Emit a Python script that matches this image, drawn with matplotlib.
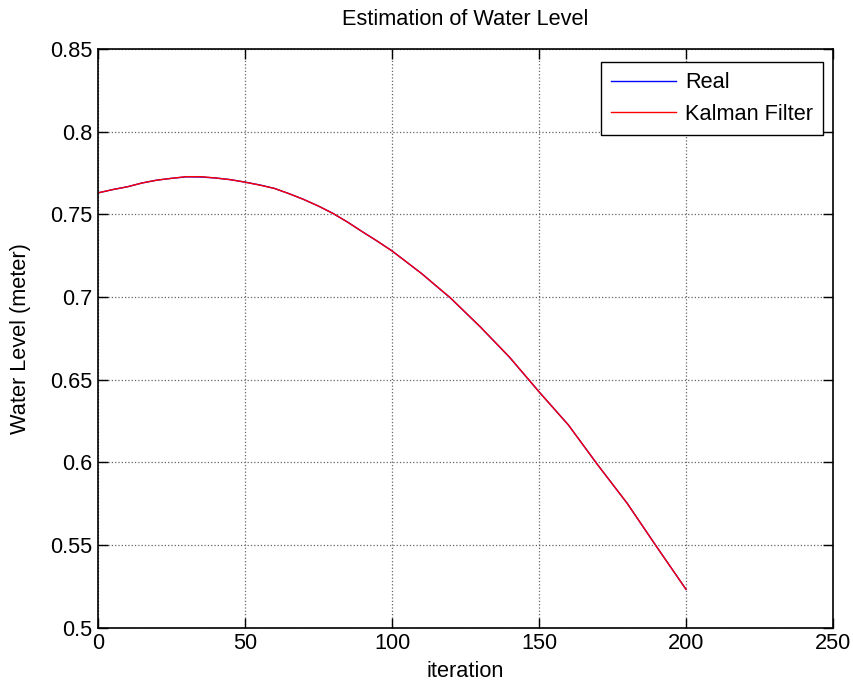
import matplotlib.pyplot as plt
import matplotlib.ticker as mticker

plt.rcParams['font.family'] = ['Liberation Sans', 'DejaVu Sans']

# Data
iteration = [0, 5, 10, 15, 20, 25, 30, 35, 40, 45, 50, 55, 60, 65, 70, 75, 80,
             85, 90, 95, 100, 110, 120, 130, 140, 150, 160, 170, 180, 190, 200]
real = [0.7630, 0.7650, 0.7667, 0.7690, 0.7707, 0.7718, 0.7727, 0.7726, 0.7720,
        0.7710, 0.7695, 0.7678, 0.7657, 0.7625, 0.7590, 0.7550, 0.7505,
        0.7452, 0.7394, 0.7338, 0.7279, 0.7143, 0.6992, 0.6820, 0.6635,
        0.6427, 0.6226, 0.5984, 0.5752, 0.5490, 0.5232]
kalman = [0.7630, 0.7650, 0.7667, 0.7690, 0.7707, 0.7718, 0.7728, 0.7728, 0.7720,
          0.7710, 0.7695, 0.7677, 0.7657, 0.7625, 0.7590, 0.7550, 0.7505,
          0.7452, 0.7394, 0.7338, 0.7279, 0.7143, 0.6993, 0.6820, 0.6636,
          0.6427, 0.6226, 0.5984, 0.5752, 0.5490, 0.5232]

fs = 15.7

fig = plt.figure(figsize=(8.54, 6.86), dpi=100)
ax = fig.add_axes([0.1148, 0.085, 0.8606, 0.8435])

ax.plot(iteration, real, color='blue', linewidth=1.0, label='Real')
ax.plot(iteration, kalman, color='red', linewidth=1.0, label='Kalman Filter')

ax.set_xlim(0, 250)
ax.set_ylim(0.5, 0.85)
ax.set_xticks(range(0, 251, 50))
ax.set_yticks([0.5, 0.55, 0.6, 0.65, 0.7, 0.75, 0.8, 0.85])
ax.yaxis.set_major_formatter(mticker.FuncFormatter(lambda v, p: '%g' % round(v, 2)))

ax.grid(True, linestyle=':', color='#666666', linewidth=0.9)
ax.tick_params(direction='in', top=True, right=True, length=7, width=1,
               labelsize=fs, pad=4)
for s in ax.spines.values():
    s.set_linewidth(1.2)

ax.set_title('Estimation of Water Level', fontsize=fs, pad=17)
ax.set_xlabel('iteration', fontsize=fs, labelpad=5)
ax.set_ylabel('Water Level (meter)', fontsize=fs, labelpad=14)

leg = ax.legend(loc='upper right', bbox_to_anchor=(0.9864, 0.977), fontsize=fs,
                fancybox=False, edgecolor='black', framealpha=1,
                handlelength=3.0, handletextpad=0.4, borderaxespad=0,
                borderpad=0.45, labelspacing=0.5)
leg.get_frame().set_linewidth(1.0)

fig.savefig('out.png', dpi=100)
